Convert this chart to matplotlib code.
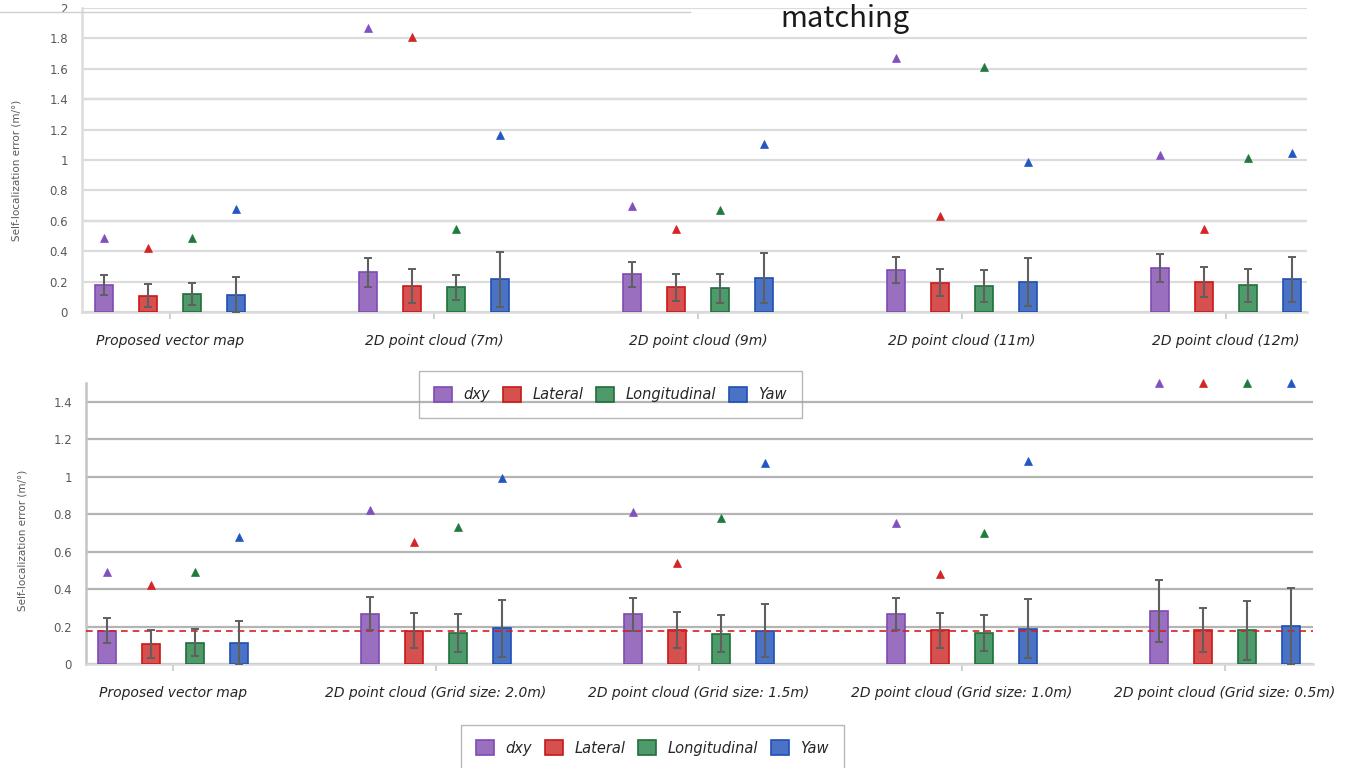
import numpy as np
import matplotlib
matplotlib.use("Agg")
import matplotlib.pyplot as plt
from matplotlib.patches import Patch
from matplotlib.lines import Line2D

# series order: dxy, Lateral, Longitudinal, Yaw
series = ["dxy", "Lateral", "Longitudinal", "Yaw"]

top_categories = ["Proposed vector map", "2D point cloud (7m)", "2D point cloud (9m)",
                  "2D point cloud (11m)", "2D point cloud (12m)"]
bottom_categories = ["Proposed vector map", "2D point cloud (Grid size: 2.0m)",
                     "2D point cloud (Grid size: 1.5m)", "2D point cloud (Grid size: 1.0m)",
                     "2D point cloud (Grid size: 0.5m)"]

# mean error (bars), standard deviation (error bars), max error (triangles)
top_mean = [
    [0.176, 0.260, 0.247, 0.276, 0.289],
    [0.108, 0.172, 0.163, 0.193, 0.197],
    [0.118, 0.163, 0.155, 0.169, 0.175],
    [0.115, 0.214, 0.222, 0.197, 0.215],
]
top_std = [
    [0.066, 0.096, 0.085, 0.088, 0.093],
    [0.075, 0.112, 0.089, 0.090, 0.097],
    [0.070, 0.082, 0.094, 0.105, 0.110],
    [0.115, 0.180, 0.165, 0.155, 0.148],
]
top_max = [
    [0.49, 1.87, 0.70, 1.674, 1.03],
    [0.42, 1.81, 0.543, 0.63, 0.545],
    [0.49, 0.545, 0.672, 1.615, 1.01],
    [0.68, 1.163, 1.108, 0.99, 1.043],
]

bottom_mean = [
    [0.178, 0.269, 0.266, 0.266, 0.283],
    [0.107, 0.178, 0.183, 0.180, 0.182],
    [0.114, 0.166, 0.162, 0.164, 0.180],
    [0.114, 0.190, 0.178, 0.189, 0.203],
]
bottom_std = [
    [0.067, 0.088, 0.088, 0.087, 0.164],
    [0.074, 0.094, 0.096, 0.094, 0.118],
    [0.071, 0.100, 0.097, 0.096, 0.158],
    [0.116, 0.153, 0.142, 0.156, 0.205],
]
bottom_max = [
    [0.49, 0.823, 0.813, 0.754, 1.5],
    [0.42, 0.652, 0.540, 0.481, 1.5],
    [0.49, 0.733, 0.780, 0.700, 1.5],
    [0.68, 0.995, 1.075, 1.086, 1.5],
]
baseline = 0.178  # proposed method dxy mean

fills = ["#9b6fc0", "#d65050", "#4e9a6a", "#4a73c6"]
edges = ["#7d4cb3", "#c81818", "#1f6e3c", "#1f4fb5"]
markers = ["#8050c0", "#d42424", "#1f7a40", "#2456c2"]

W, H = 1352, 768


def draw_panel(ax, cats, mean, std, mx, ymax, grid_color, axis_color):
    offsets = [-0.25, -0.0833, 0.0833, 0.25]
    x0 = np.arange(len(cats))
    for i in range(len(series)):
        x = x0 + offsets[i]
        ax.bar(x, mean[i], 0.068, color=fills[i], edgecolor=edges[i], lw=1.2, zorder=3)
        ax.errorbar(x, mean[i], yerr=std[i], fmt="none", ecolor="#5f5f5f",
                    elinewidth=1.5, capsize=3.2, capthick=1.4, zorder=4)
        ax.plot(x, mx[i], ls="none", marker="^", ms=5.2, color=markers[i],
                mec=markers[i], mew=0.5, zorder=5, clip_on=False)

    ticks = np.arange(0, ymax + 1e-6, 0.2)
    ax.set_ylim(0, ymax)
    ax.set_yticks(ticks)
    ax.set_yticklabels([f"{t:g}" for t in np.round(ticks, 1)])
    ax.tick_params(axis="y", length=0, pad=10, labelsize=8.5, labelcolor="#595959")
    ax.set_xticks(x0)
    ax.set_xticklabels(cats, fontstyle="italic", fontsize=10, color="#262626")
    ax.tick_params(axis="x", length=5, width=1.2, color="#c8c8c8", pad=11)

    ax.grid(axis="y", color=grid_color, lw=1.6, zorder=0)
    ax.set_axisbelow(True)
    for side in ["top", "right"]:
        ax.spines[side].set_visible(False)
    ax.spines["left"].set_color(axis_color)
    ax.spines["left"].set_linewidth(1.8)
    ax.spines["bottom"].set_color("#d9d9d9")
    ax.spines["bottom"].set_linewidth(1.8)
    ax.set_ylabel("Self-localization error (m/°)", fontsize=7.5, color="#595959")


fig = plt.figure(figsize=(W / 100, H / 100), dpi=100)

ax_top = fig.add_axes([82 / W, 1 - 312 / H, (1307 - 82) / W, 304 / H])
draw_panel(ax_top, top_categories, top_mean, top_std, top_max, 2.0, "#dcdcdc", "#dcdcdc")
ax_top.set_xlim((82 - 170) / 264, (1307 - 170) / 264)
for y in (0.6, 1.4):
    ax_top.axhline(y, color="#c4c4c4", lw=1.6, zorder=0.5)
ax_top.yaxis.set_label_coords(-0.049, 0.467)

ax_bot = fig.add_axes([86 / W, 1 - 664 / H, (1313 - 86) / W, 281 / H])
draw_panel(ax_bot, bottom_categories, bottom_mean, bottom_std, bottom_max, 1.5, "#b4b4b4", "#c4c4c4")
ax_bot.set_xlim((86 - 173) / 263, (1313 - 173) / 263)
ax_bot.axhline(baseline, color="#d42020", lw=1.2, ls=(0, (4, 3)), zorder=3.5)
ax_bot.yaxis.set_label_coords(-0.048, 0.441)

handles = [Patch(facecolor=f, edgecolor=e, lw=1.2) for f, e in zip(fills, edges)]
for cx, cy in [((421 + 800) / 2, 394.5), ((465 + 840) / 2, 748)]:
    leg = fig.legend(handles, series, loc="center", bbox_to_anchor=(cx / W, 1 - cy / H),
                     ncol=4, frameon=True, fancybox=False, handlelength=1.2, handleheight=1.2,
                     handletextpad=0.8, columnspacing=0.9, borderpad=1.05,
                     prop={"style": "italic", "size": 10.5})
    leg.get_frame().set_edgecolor("#a6a6a6")
    leg.get_frame().set_facecolor("none")
    leg.get_frame().set_linewidth(1.0)
    for t in leg.get_texts():
        t.set_color("#262626")

fig.add_artist(Line2D([0, 690 / W], [1 - 12 / H] * 2, color="#cfcfcf", lw=1.0))
fig.text(845 / W, 1 - 19 / H, "matching", ha="center", va="center", fontsize=21,
         family=["Noto Sans CJK JP", "DejaVu Sans"], color="#1a1a1a")

fig.savefig("out.png", dpi=100)
